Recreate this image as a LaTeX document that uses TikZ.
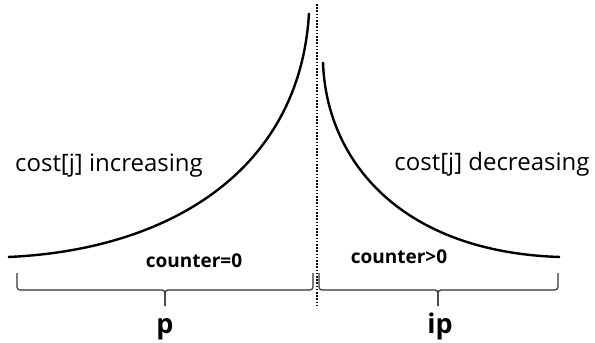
\documentclass[tikz,border=0pt]{standalone}
\usepackage{fontspec}
\setmainfont{Open Sans}
\begin{document}
\begin{tikzpicture}[x=1pt,y=-1pt,
  curve/.style={line width=2.4pt,black},
  brace/.style={line width=1.2pt,black!80,rounded corners=3pt},
  sep/.style={line width=1.6pt,black,dash pattern=on 1.6pt off 1.6pt},
  lbl/.style={inner sep=0pt,anchor=base,font=\fontsize{24}{28}\selectfont},
  cnt/.style={inner sep=0pt,anchor=base,font=\bfseries\fontsize{19}{22}\selectfont},
  part/.style={inner sep=0pt,anchor=base,font=\bfseries\fontsize{27}{30}\selectfont}]
\useasboundingbox (0,0) rectangle (595,343);
% curves
\coordinate (l0) at (8,257);
\coordinate (l1) at (309,13);
\coordinate (r0) at (323,62);
\coordinate (r1) at (560,257);
\draw[curve] (l0) .. controls (170,250) and (300,170) .. (l1);
\draw[curve] (r0) .. controls (326,160) and (400,252) .. (r1);
% separator
\coordinate (st) at (316.7,4);
\coordinate (sb) at (316.7,308);
\draw[sep] (st) -- (sb);
% braces
\draw[brace] (17,273) -- (17,290) -- (165,290) -- (165,306);
\draw[brace] (165,306) -- (165,290) -- (313,290) -- (313,273);
\draw[brace] (319,273) -- (319,290) -- (438,290) -- (438,306);
\draw[brace] (438,306) -- (438,290) -- (558,290) -- (558,273);
% texts
\node[lbl] (inc) at (109,171) {cost[j] increasing};
\node[lbl] (dec) at (492,170) {cost[j] decreasing};
\node[cnt] (c0) at (194,267) {counter=0};
\node[cnt] (c1) at (399,263) {counter>0};
\node[part] (p) at (165,333) {p};
\node[part] (ip) at (440,333) {ip};
\end{tikzpicture}
\end{document}
